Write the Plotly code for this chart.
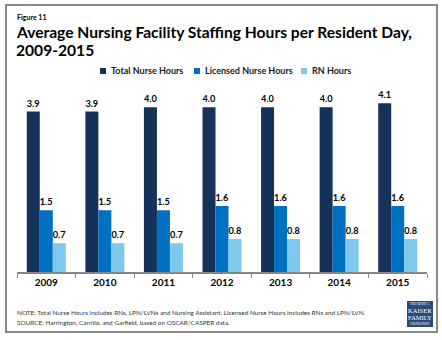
import plotly.graph_objects as go

# Staffing hours per resident day, by year
years = ["2009", "2010", "2011", "2012", "2013", "2014", "2015"]
total_nurse_hours = [3.9, 3.9, 4.0, 4.0, 4.0, 4.0, 4.1]
licensed_nurse_hours = [1.5, 1.5, 1.5, 1.6, 1.6, 1.6, 1.6]
rn_hours = [0.7, 0.7, 0.7, 0.8, 0.8, 0.8, 0.8]

series_names = ["Total Nurse Hours", "Licensed Nurse Hours", "RN Hours"]
series_colors = ["#15325a", "#0070c0", "#80c7ee"]

W, H = 442, 340
ML, MR, MT, MB = 17, 15, 90, 68
PW, PH = W - ML - MR, H - MT - MB
FONT = "Lato"


def px(x):
    return (x - ML) / PW


def py(y):
    return (H - MB - y) / PH


fig = go.Figure()
for name, vals, color in zip(series_names,
                             [total_nurse_hours, licensed_nurse_hours, rn_hours],
                             series_colors):
    fig.add_trace(go.Bar(
        x=years, y=vals, name=name,
        marker=dict(color=color, line=dict(width=0)),
        texttemplate="%{y:.1f}", textposition="outside",
        textfont=dict(family=FONT, size=10, color="#000000", weight=700),
        cliponaxis=False,
    ))

shapes = [
    # outer frame
    dict(type="rect", xref="paper", yref="paper",
         x0=px(6), x1=px(437), y0=py(332), y1=py(5),
         line=dict(color="#8a8a8a", width=2), fillcolor="rgba(0,0,0,0)", layer="below"),
    # foundation logo block
    dict(type="rect", xref="paper", yref="paper",
         x0=px(407), x1=px(433), y0=py(327), y1=py(301),
         line=dict(width=0), fillcolor="#2b4a78"),
]

annotations = [
    dict(text="<b>Figure 11</b>", x=px(15), y=py(17), xanchor="left", yanchor="middle",
         font=dict(family=FONT, size=7, color="#000000")),
    dict(text="<b>Average Nursing Facility Staffing Hours per Resident Day,</b>",
         x=px(14), y=py(32), xanchor="left", yanchor="middle",
         font=dict(family=FONT, size=15.6, color="#000000")),
    dict(text="<b>2009-2015</b>", x=px(14), y=py(50), xanchor="left", yanchor="middle",
         font=dict(family=FONT, size=15.6, color="#000000")),
    dict(text="NOTE: Total Nurse Hours includes RNs, LPN/LVNs and Nursing Assistant. "
              "Licensed Nurse Hours includes RNs and LPN/LVN.",
         x=px(15), y=py(312.5), xanchor="left", yanchor="middle",
         font=dict(family=FONT, size=6.4, color="#333333")),
    dict(text="SOURCE: Harrington, Carrillo, and Garfield, based on OSCAR/CASPER data.",
         x=px(15), y=py(322), xanchor="left", yanchor="middle",
         font=dict(family=FONT, size=6.4, color="#333333")),
]

# legend row
legend_x = [100, 194, 301]
for name, color, lx in zip(series_names, series_colors, legend_x):
    shapes.append(dict(type="rect", xref="paper", yref="paper",
                       x0=px(lx), x1=px(lx + 6), y0=py(74), y1=py(68),
                       line=dict(width=0), fillcolor=color))
    annotations.append(dict(text=f"<b>{name}</b>", x=px(lx + 9), y=py(71),
                            xanchor="left", yanchor="middle",
                            font=dict(family=FONT, size=9, color="#1a1a1a")))

# logo lettering
for txt, yy, sz in [("THE HENRY J.", 304, 3), ("KAISER", 310, 6.5),
                    ("FAMILY", 317.5, 6.5), ("FOUNDATION", 324, 3)]:
    annotations.append(dict(text=txt, x=px(420), y=py(yy), xanchor="center",
                            yanchor="middle",
                            font=dict(family="Liberation Serif", size=sz, color="#ffffff")))

for a in annotations:
    a.update(xref="paper", yref="paper", showarrow=False)

fig.update_layout(
    width=W, height=H,
    margin=dict(l=ML, r=MR, t=MT, b=MB),
    paper_bgcolor="#ffffff", plot_bgcolor="#ffffff",
    barmode="group", bargap=0.334, bargroupgap=0,
    showlegend=False,
    shapes=shapes, annotations=annotations,
    xaxis=dict(
        showline=True, linecolor="#868686", linewidth=1.5,
        tickson="boundaries", ticks="outside", ticklen=4, tickcolor="#868686",
        tickfont=dict(family=FONT, size=10, color="#000000", weight=700),
        showgrid=False, fixedrange=True,
    ),
    yaxis=dict(range=[0, 4.42], visible=False, showgrid=False, fixedrange=True),
)

fig.write_html("out.html", config={"displayModeBar": False})
